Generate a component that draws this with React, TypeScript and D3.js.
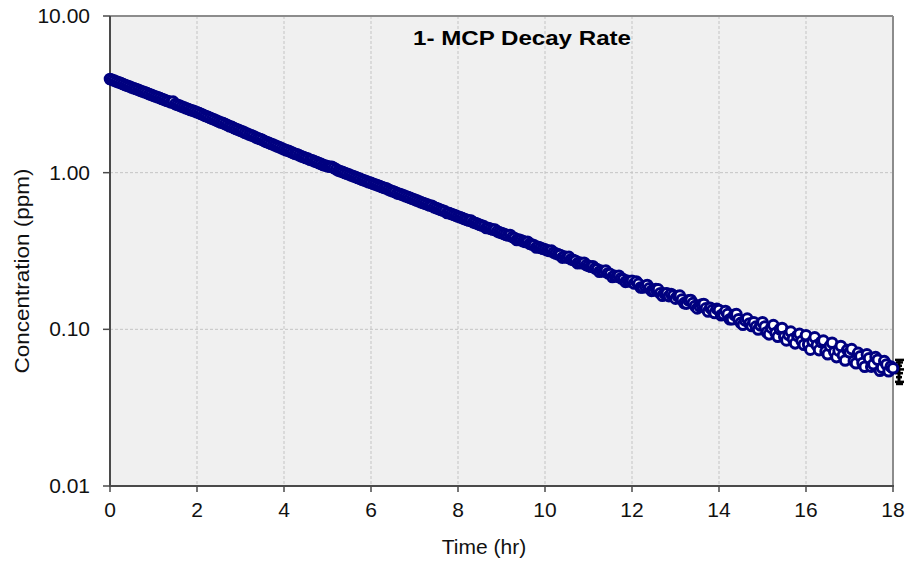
import React from "react";
import * as d3 from "d3";

// Time grid of the logger: one reading every 0.05 hr from 0 to 18 hr
const TIME_STEP_HR = 0.05;

// 1-MCP concentration (ppm), one value per 0.05 hr
const concentration: number[] = [
  // 0 – 0.95 hr
  3.96, 3.91, 3.87, 3.81, 3.77, 3.73, 3.68, 3.63, 3.59, 3.55,
  3.50, 3.46, 3.42, 3.38, 3.33, 3.30, 3.26, 3.22, 3.17, 3.14,
  // 1 – 1.95 hr
  3.10, 3.06, 3.03, 2.99, 2.95, 2.92, 2.88, 2.85, 2.81, 2.84,
  2.74, 2.71, 2.68, 2.64, 2.61, 2.58, 2.55, 2.51, 2.49, 2.46,
  // 2 – 2.95 hr
  2.43, 2.40, 2.37, 2.33, 2.30, 2.27, 2.24, 2.21, 2.18, 2.15,
  2.12, 2.09, 2.07, 2.04, 2.01, 1.98, 1.96, 1.93, 1.90, 1.88,
  // 3 – 3.95 hr
  1.85, 1.83, 1.80, 1.78, 1.75, 1.73, 1.71, 1.68, 1.66, 1.64,
  1.62, 1.59, 1.57, 1.55, 1.53, 1.51, 1.49, 1.47, 1.45, 1.43,
  // 4 – 4.95 hr
  1.41, 1.39, 1.38, 1.36, 1.34, 1.32, 1.31, 1.29, 1.27, 1.26,
  1.24, 1.23, 1.21, 1.20, 1.18, 1.17, 1.15, 1.14, 1.12, 1.11,
  // 5 – 5.95 hr
  1.10, 1.09, 1.09, 1.07, 1.05, 1.03, 1.02, 1.01, 0.996, 0.984,
  0.971, 0.959, 0.947, 0.936, 0.924, 0.913, 0.902, 0.891, 0.880, 0.869,
  // 6 – 6.95 hr
  0.861, 0.850, 0.840, 0.830, 0.820, 0.810, 0.800, 0.795, 0.780, 0.770,
  0.761, 0.752, 0.738, 0.733, 0.724, 0.716, 0.707, 0.698, 0.690, 0.681,
  // 7 – 7.95 hr
  0.673, 0.665, 0.657, 0.648, 0.640, 0.633, 0.625, 0.617, 0.615, 0.602,
  0.594, 0.587, 0.580, 0.573, 0.566, 0.553, 0.552, 0.545, 0.538, 0.532,
  // 8 – 8.95 hr
  0.525, 0.519, 0.513, 0.506, 0.500, 0.494, 0.494, 0.483, 0.477, 0.471,
  0.465, 0.460, 0.454, 0.443, 0.443, 0.438, 0.433, 0.433, 0.422, 0.417,
  // 9 – 9.95 hr
  0.412, 0.407, 0.402, 0.397, 0.400, 0.388, 0.383, 0.372, 0.374, 0.370,
  0.365, 0.361, 0.362, 0.352, 0.348, 0.344, 0.333, 0.335, 0.331, 0.327,
  // 10 – 10.95 hr
  0.324, 0.320, 0.316, 0.318, 0.309, 0.305, 0.301, 0.298, 0.287, 0.291,
  0.287, 0.290, 0.280, 0.277, 0.274, 0.264, 0.267, 0.264, 0.266, 0.257,
  // 11 – 11.95 hr
  0.254, 0.251, 0.253, 0.245, 0.242, 0.233, 0.236, 0.234, 0.237, 0.228,
  0.225, 0.216, 0.220, 0.217, 0.220, 0.212, 0.209, 0.201, 0.204, 0.202,
  // 12 – 12.95 hr
  0.204, 0.196, 0.202, 0.195, 0.185, 0.185, 0.189, 0.192, 0.183, 0.176,
  0.177, 0.181, 0.180, 0.170, 0.164, 0.169, 0.170, 0.163, 0.168, 0.164,
  // 13 – 13.95 hr
  0.157, 0.163, 0.164, 0.155, 0.147, 0.146, 0.153, 0.154, 0.147, 0.141,
  0.136, 0.141, 0.144, 0.145, 0.136, 0.130, 0.137, 0.133, 0.127, 0.135,
  // 14 – 14.95 hr
  0.133, 0.123, 0.125, 0.131, 0.125, 0.116, 0.116, 0.124, 0.125, 0.116,
  0.110, 0.107, 0.114, 0.117, 0.109, 0.105, 0.111, 0.104, 0.0998, 0.106,
  // 15 – 15.95 hr
  0.111, 0.104, 0.0959, 0.0929, 0.1025, 0.1064, 0.0946, 0.0897, 0.1002, 0.1020,
  0.0897, 0.0850, 0.0923, 0.0967, 0.0868, 0.0814, 0.0911, 0.0936, 0.0841, 0.0798,
  // 16 – 16.95 hr
  0.0917, 0.0800, 0.0742, 0.0840, 0.0889, 0.0792, 0.0737, 0.0831, 0.0847, 0.0723,
  0.0693, 0.0784, 0.0821, 0.0717, 0.0665, 0.0731, 0.0782, 0.0682, 0.0633, 0.0738,
  // 17 – 18 hr
  0.0714, 0.0748, 0.0627, 0.0607, 0.0707, 0.0674, 0.0609, 0.0577, 0.0692, 0.0654,
  0.0578, 0.0598, 0.0665, 0.0640, 0.0544, 0.0568, 0.0627, 0.0597, 0.0540, 0.0579,
  0.0564,
];

// Error-bar caps shown at the end of the record (ppm)
const endErrorCaps: number[] = [0.0638, 0.0615, 0.0585, 0.0555, 0.0525, 0.0495, 0.0462, 0.0448];

const xTicks: number[] = [0, 2, 4, 6, 8, 10, 12, 14, 16, 18];
const yTicks: number[] = [0.01, 0.1, 1, 10];
const yTickLabels: string[] = ["0.01", "0.10", "1.00", "10.00"];

const TITLE = "1- MCP Decay Rate";
const X_TITLE = "Time (hr)";
const Y_TITLE = "Concentration (ppm)";

const W = 908;
const H = 561;
const M = { left: 110, right: 15, top: 16, bottom: 75 };

export default function App() {
  const x = d3.scaleLinear().domain([0, 18]).range([M.left, W - M.right]);
  const y = d3.scaleLog().domain([0.01, 10]).range([H - M.bottom, M.top]);
  const data = concentration.map((c, i) => ({ t: i * TIME_STEP_HR, c }));
  const font = "'Liberation Sans', Arial, sans-serif";
  const x0 = x(0), x1 = x(18), y0 = y(0.01), y1 = y(10);
  const last = data[data.length - 1];
  const ex = x(last.t) + 6;

  return (
    <div style={{ position: "absolute", left: 0, top: 0 }}>
      <svg width={W} height={H} style={{ display: "block", background: "#fff" }} fontFamily={font}>
        <rect x={x0} y={y1} width={x1 - x0} height={y0 - y1} fill="#f0f0f0" />
        {/* grid */}
        {xTicks.filter((t) => t > 0 && t < 18).map((t) => (
          <line key={"gx" + t} x1={x(t)} x2={x(t)} y1={y1} y2={y0} stroke="#c4c4c4" strokeWidth={1} strokeDasharray="3,2" />
        ))}
        {yTicks.filter((v) => v > 0.01 && v < 10).map((v) => (
          <line key={"gy" + v} x1={x0} x2={x1} y1={y(v)} y2={y(v)} stroke="#c4c4c4" strokeWidth={1} strokeDasharray="3,2" />
        ))}
        {/* frame */}
        <line x1={x0} x2={x1} y1={y1} y2={y1} stroke="#8c8c8c" strokeWidth={2} />
        <line x1={x1} x2={x1} y1={y1} y2={y0} stroke="#8c8c8c" strokeWidth={2} />
        <line x1={x0} x2={x0} y1={y1} y2={y0 + 1} stroke="#4a4a4a" strokeWidth={2} />
        <line x1={x0 - 1} x2={x1 + 1} y1={y0} y2={y0} stroke="#4a4a4a" strokeWidth={2} />
        {/* ticks */}
        {xTicks.map((t) => (
          <g key={"xt" + t}>
            <line x1={x(t)} x2={x(t)} y1={y0} y2={y0 + 6} stroke="#4a4a4a" strokeWidth={1.5} />
            <text x={x(t)} y={y0 + 31} textAnchor="middle" fontSize={21} fill="#111">{t}</text>
          </g>
        ))}
        {yTicks.map((v, i) => (
          <g key={"yt" + v}>
            <line x1={x0 - 7} x2={x0} y1={y(v)} y2={y(v)} stroke="#4a4a4a" strokeWidth={1.5} />
            <text x={90} y={y(v) + 7} textAnchor="end" fontSize={21} fill="#111">{yTickLabels[i]}</text>
          </g>
        ))}
        {/* end error bar */}
        <line x1={ex} x2={ex} y1={y(endErrorCaps[0])} y2={y(endErrorCaps[endErrorCaps.length - 1])} stroke="#000" strokeWidth={3} />
        {endErrorCaps.map((v, i) => (
          <line key={"eb" + i} x1={ex - 4 + (i % 2)} x2={ex + 5 - (i % 3)} y1={y(v)} y2={y(v)} stroke="#000" strokeWidth={2.5} />
        ))}
        {/* data */}
        {data.map((d, i) => (
          <circle key={i} cx={x(d.t)} cy={y(d.c)} r={4.8} fill="#fff" stroke="#000080" strokeWidth={3} />
        ))}
        {/* titles */}
        <text x={522} y={45} textAnchor="middle" fontSize={21} fontWeight="bold" fill="#000" textLength={218} lengthAdjust="spacingAndGlyphs">{TITLE}</text>
        <text x={484} y={554} textAnchor="middle" fontSize={21} fill="#111">{X_TITLE}</text>
        <text transform={`translate(29, 271) rotate(-90)`} textAnchor="middle" fontSize={20} fill="#111" textLength={205} lengthAdjust="spacingAndGlyphs">{Y_TITLE}</text>
      </svg>
    </div>
  );
}
